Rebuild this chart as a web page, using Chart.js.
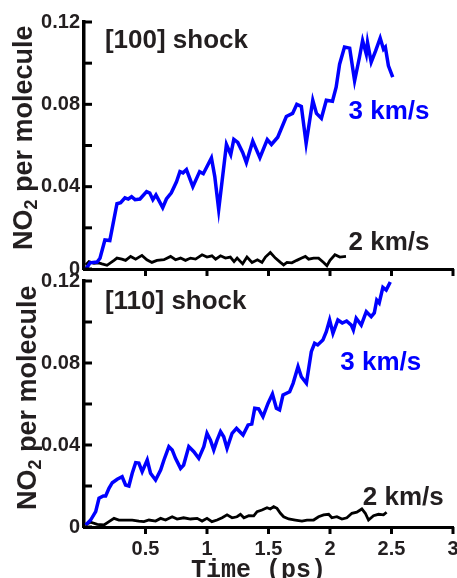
<!DOCTYPE html>
<html><head><meta charset="utf-8">
<script src="https://cdn.jsdelivr.net/npm/chart.js@4.4.1/dist/chart.umd.min.js"></script>
<style>
html,body{margin:0;padding:0;background:#fff;overflow:hidden;width:457px;height:578px;position:relative;}
#c1{position:absolute;left:0;top:0;}
#c2{position:absolute;left:0;top:260px;}
</style></head><body>
<canvas id="c1" width="470" height="290"></canvas>
<canvas id="c2" width="470" height="340"></canvas>
<script>
// ---------- data ----------
const yTickValues = [0, 0.02, 0.04, 0.06, 0.08, 0.10, 0.12];
const yLabelValues = [0, 0.04, 0.08, 0.12];
const yLabelText = ['0', '0.04', '0.08', '0.12'];
const xTickValues = [0.5, 1, 1.5, 2, 2.5, 3];
const xLabelText = ['0.5', '1', '1.5', '2', '2.5', '3'];

// [100] shock, 3 km/s
const s100_3_t = [0.016,0.049,0.106,0.13,0.17,0.21,0.268,0.298,0.333,0.36,0.387,0.415,0.455,0.509,0.535,0.56,0.585,0.64,0.67,0.71,0.752,0.78,0.805,0.833,0.885,0.94,0.97,1.036,1.063,1.095,1.158,1.193,1.218,1.25,1.29,1.32,1.372,1.43,1.49,1.524,1.575,1.645,1.696,1.73,1.767,1.806,1.86,1.89,1.93,1.97,2.02,2.05,2.078,2.118,2.16,2.2,2.24,2.265,2.295,2.305,2.335,2.37,2.408,2.435,2.45,2.475,2.51];
const s100_3_v = [0,0.003,0.0034,0.0052,0.0141,0.0138,0.0317,0.0322,0.0346,0.034,0.0351,0.0337,0.034,0.0376,0.0369,0.0337,0.036,0.0298,0.034,0.037,0.0424,0.0473,0.0467,0.0483,0.04,0.0473,0.0463,0.054,0.045,0.0288,0.0605,0.0556,0.063,0.0615,0.0566,0.0517,0.0621,0.0541,0.0629,0.0605,0.064,0.0741,0.0756,0.08,0.079,0.061,0.082,0.0756,0.0732,0.082,0.0815,0.0883,0.0995,0.1078,0.1073,0.0914,0.103,0.111,0.1044,0.110,0.1005,0.1059,0.1122,0.1068,0.1078,0.0987,0.0932];

// [100] shock, 2 km/s
const s100_2_t = [0.014,0.04,0.081,0.12,0.146,0.187,0.244,0.268,0.308,0.338,0.379,0.42,0.471,0.511,0.552,0.593,0.65,0.704,0.744,0.785,0.825,0.866,0.907,0.96,1.0,1.04,1.07,1.11,1.15,1.19,1.22,1.245,1.29,1.325,1.366,1.41,1.447,1.475,1.515,1.556,1.597,1.623,1.65,1.69,1.73,1.77,1.8,1.826,1.867,1.907,1.948,1.975,2.0,2.04,2.08,2.13];
const s100_2_v = [0.002,0.0036,0.0028,0.003,0.0025,0.0018,0.0042,0.0053,0.0048,0.0042,0.0061,0.0048,0.0066,0.0045,0.0032,0.0042,0.0045,0.0061,0.0045,0.0053,0.0042,0.0053,0.0048,0.0069,0.0058,0.0064,0.0048,0.0064,0.0053,0.0058,0.0036,0.0053,0.0025,0.0058,0.0032,0.0045,0.0032,0.0058,0.008,0.0053,0.0032,0.002,0.0032,0.003,0.0042,0.0053,0.0061,0.0048,0.0053,0.0053,0.0032,0.0016,0.0042,0.0069,0.0058,0.0061];

// [110] shock, 3 km/s
const s110_3_t = [0.014,0.054,0.095,0.122,0.157,0.176,0.203,0.23,0.27,0.31,0.338,0.365,0.392,0.42,0.446,0.473,0.514,0.541,0.582,0.623,0.65,0.69,0.717,0.744,0.785,0.81,0.852,0.893,0.933,0.974,1.0,1.028,1.055,1.082,1.11,1.136,1.163,1.204,1.24,1.293,1.334,1.364,1.388,1.42,1.455,1.496,1.532,1.564,1.59,1.618,1.672,1.7,1.74,1.767,1.808,1.848,1.875,1.9,1.942,1.97,1.997,2.024,2.064,2.1,2.135,2.173,2.19,2.213,2.254,2.295,2.335,2.36,2.38,2.4,2.43,2.457,2.49];
const s110_3_v = [0.001,0.0034,0.0075,0.014,0.0151,0.0151,0.0189,0.0216,0.0233,0.0245,0.0205,0.02,0.0262,0.0314,0.0312,0.027,0.0327,0.0262,0.0229,0.0278,0.0327,0.0392,0.0376,0.0335,0.0286,0.0302,0.0392,0.0367,0.0335,0.0392,0.0457,0.0424,0.0376,0.0424,0.0465,0.044,0.0384,0.0457,0.0481,0.0449,0.0498,0.0502,0.0579,0.0576,0.0538,0.0603,0.0649,0.0579,0.0571,0.0644,0.066,0.0701,0.0782,0.0733,0.0701,0.0855,0.0896,0.0888,0.0912,0.0953,0.101,0.0945,0.101,0.0995,0.1005,0.0985,0.0961,0.1018,0.0985,0.105,0.1026,0.1044,0.1107,0.1093,0.1169,0.1156,0.1195];

// [110] shock, 2 km/s
const s110_2_t = [0.014,0.054,0.108,0.162,0.203,0.244,0.284,0.338,0.392,0.446,0.487,0.528,0.582,0.623,0.663,0.717,0.757,0.81,0.866,0.92,0.96,1.0,1.04,1.082,1.123,1.163,1.204,1.244,1.272,1.3,1.34,1.38,1.407,1.447,1.488,1.515,1.542,1.569,1.597,1.623,1.664,1.718,1.772,1.813,1.867,1.907,1.948,1.989,2.015,2.056,2.097,2.137,2.178,2.218,2.259,2.287,2.313,2.354,2.394,2.435,2.46];
const s110_2_v = [0.0013,0.0023,0.0013,0.001,0.0026,0.0042,0.0034,0.0034,0.0034,0.0029,0.0026,0.0034,0.0029,0.0042,0.0034,0.005,0.0039,0.0045,0.0039,0.0042,0.0029,0.0042,0.0026,0.0034,0.0045,0.0059,0.0045,0.005,0.0062,0.0045,0.0055,0.0054,0.0075,0.0083,0.0094,0.0088,0.0099,0.0091,0.0067,0.005,0.0039,0.0034,0.0029,0.0034,0.0034,0.005,0.0059,0.0062,0.0045,0.005,0.0039,0.0045,0.0067,0.0072,0.0088,0.0067,0.0034,0.0055,0.0062,0.0059,0.0072];

// ---------- helpers ----------
const SANS = "'Liberation Sans', Arial, Helvetica, sans-serif";
const MONO = "'Liberation Mono', 'Courier New', monospace";
const DARK = '#231f20';
const BLUE = '#0000ff';
const pts = (t, v) => t.map((x, i) => ({x: x, y: v[i]}));

const axesPlugin = {
  id: 'axesDeco',
  afterDraw(chart, args, opts) {
    const {ctx, chartArea: a, scales: {x, y}} = chart;
    ctx.save();
    ctx.strokeStyle = '#000';
    ctx.lineWidth = 3;
    ctx.lineCap = 'butt';
    for (const v of yTickValues) {
      const py = y.getPixelForValue(v);
      ctx.beginPath(); ctx.moveTo(a.left, py); ctx.lineTo(a.left + 8, py); ctx.stroke();
    }
    for (const v of xTickValues) {
      const px = x.getPixelForValue(v);
      ctx.beginPath(); ctx.moveTo(px, a.bottom); ctx.lineTo(px, a.bottom + 7); ctx.stroke();
    }
    // annotations in data coordinates
    ctx.textBaseline = 'alphabetic';
    ctx.textAlign = 'left';
    for (const n of opts.notes) {
      ctx.font = 'bold 26px ' + SANS;
      ctx.fillStyle = n.color;
      ctx.fillText(n.text, x.getPixelForValue(n.x), y.getPixelForValue(n.y));
    }
    // y axis title with subscript
    const yt = opts.yTitle;
    ctx.save();
    ctx.translate(yt.baseX, y.getPixelForValue(0) - yt.startOffset);
    ctx.rotate(-Math.PI / 2);
    ctx.fillStyle = DARK;
    ctx.font = 'bold 27px ' + SANS;
    ctx.fillText('NO', 0, 0);
    let w = ctx.measureText('NO').width;
    ctx.font = 'bold 18px ' + SANS;
    ctx.fillText('2', w, 5);
    w += ctx.measureText('2').width;
    ctx.font = 'bold 27px ' + SANS;
    ctx.fillText(' per molecule', w, 0);
    ctx.restore();
    // x axis title
    if (opts.xTitle) {
      ctx.font = 'bold 25px ' + MONO;
      ctx.fillStyle = DARK;
      ctx.textAlign = 'center';
      ctx.fillText(opts.xTitle.text, opts.xTitle.cx, a.bottom + opts.xTitle.dy);
    }
    ctx.restore();
  }
};

function makeChart(id, blueT, blueV, blackT, blackV, cfg) {
  return new Chart(document.getElementById(id), {
    type: 'line',
    data: {
      datasets: [
        {label: '3 km/s', data: pts(blueT, blueV), borderColor: BLUE, borderWidth: 3.5, pointRadius: 0, tension: 0, fill: false},
        {label: '2 km/s', data: pts(blackT, blackV), borderColor: '#000', borderWidth: 2.8, pointRadius: 0, tension: 0, fill: false}
      ]
    },
    options: {
      responsive: false,
      animation: false,
      devicePixelRatio: 1,
      layout: {padding: {left: 0, right: 17, top: cfg.padTop, bottom: 0}},
      plugins: {
        legend: {display: false},
        tooltip: {enabled: false},
        axesDeco: {notes: cfg.notes, yTitle: cfg.yTitle, xTitle: cfg.xTitle}
      },
      scales: {
        x: {
          type: 'linear', min: 0, max: 3,
          grid: {display: false, drawTicks: false, tickLength: 0},
          border: {display: true, color: '#000', width: 3},
          ticks: {
            display: cfg.showX, stepSize: 0.5, padding: 10, color: DARK, maxRotation: 0, autoSkip: false,
            font: {family: SANS, size: 20, weight: 'bold'},
            callback: (v) => { const i = xTickValues.findIndex(u => Math.abs(u - v) < 1e-9); return i >= 0 ? xLabelText[i] : ''; }
          },
          afterFit: (s) => { s.height = cfg.xHeight; }
        },
        y: {
          type: 'linear', min: 0, max: 0.12,
          grid: {display: false, drawTicks: false, tickLength: 0},
          border: {display: true, color: '#000', width: 3.5},
          ticks: {
            stepSize: 0.02, padding: 4, color: DARK, autoSkip: false,
            font: {family: SANS, size: 20, weight: 'bold'},
            callback: (v) => { const i = yLabelValues.findIndex(u => Math.abs(u - v) < 1e-9); return i >= 0 ? yLabelText[i] : ''; }
          },
          afterFit: (s) => { s.width = 84; }
        }
      }
    },
    plugins: [axesPlugin]
  });
}

makeChart('c1', s100_3_t, s100_3_v, s100_2_t, s100_2_v, {
  padTop: 22, xHeight: 21, showX: false,
  notes: [
    {text: '[100] shock', x: 0.17, y: 0.1073, color: DARK},
    {text: '3 km/s', x: 2.151, y: 0.0727, color: BLUE},
    {text: '2 km/s', x: 2.151, y: 0.0093, color: DARK}
  ],
  yTitle: {baseX: 31.5, startOffset: 19},
  xTitle: null
});

makeChart('c2', s110_3_t, s110_3_v, s110_2_t, s110_2_v, {
  padTop: 21, xHeight: 73, showX: true,
  notes: [
    {text: '[110] shock', x: 0.17, y: 0.1063, color: DARK},
    {text: '3 km/s', x: 2.084, y: 0.0766, color: BLUE},
    {text: '2 km/s', x: 2.267, y: 0.0107, color: DARK}
  ],
  yTitle: {baseX: 36, startOffset: 17},
  xTitle: {text: 'Time (ps)', cx: 258.5, dy: 50}
});
</script>
</body></html>
